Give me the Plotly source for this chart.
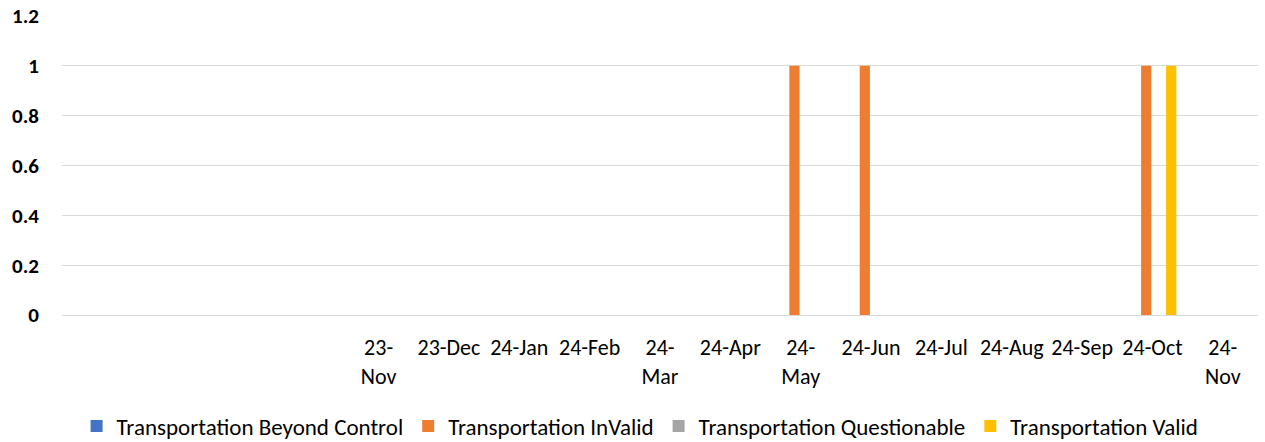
import plotly.graph_objects as go

# Month slots on the category axis (the first four slots carry no label)
categories = ["", "", "", "", "23-Nov", "23-Dec", "24-Jan", "24-Feb", "24-Mar",
              "24-Apr", "24-May", "24-Jun", "24-Jul", "24-Aug", "24-Sep",
              "24-Oct", "24-Nov"]
tick_labels = ["", "", "", "", "23-<br>Nov", "23-Dec", "24-Jan", "24-Feb",
               "24-<br>Mar", "24-Apr", "24-<br>May", "24-Jun", "24-Jul",
               "24-Aug", "24-Sep", "24-Oct", "24-<br>Nov"]

beyond_control = [0, 0, 0, 0, 0, 0, 0, 0, 0, 0, 0, 0, 0, 0, 0, 0, 0]
invalid        = [0, 0, 0, 0, 0, 0, 0, 0, 0, 0, 1, 1, 0, 0, 0, 1, 0]
questionable   = [0, 0, 0, 0, 0, 0, 0, 0, 0, 0, 0, 0, 0, 0, 0, 0, 0]
valid          = [0, 0, 0, 0, 0, 0, 0, 0, 0, 0, 0, 0, 0, 0, 0, 1, 0]

y_ticks = [0, 0.2, 0.4, 0.6, 0.8, 1, 1.2]
y_tick_text = ["0", "0.2", "0.4", "0.6", "0.8", "1", "1.2"]

series = [
    ("Transportation Beyond Control", beyond_control, "#4472C4"),
    ("Transportation InValid", invalid, "#ED7D31"),
    ("Transportation Questionable", questionable, "#A5A5A5"),
    ("Transportation Valid", valid, "#FFC000"),
]

positions = list(range(len(categories)))
FONT = "Carlito, Calibri, Lato, sans-serif"

fig = go.Figure()
for name, values, color in series:
    fig.add_trace(go.Bar(
        x=positions, y=values, name=name,
        marker=dict(color=color, line=dict(width=0)),
    ))

fig.update_layout(
    width=1265, height=442,
    margin=dict(l=62, r=7, t=16, b=127, autoexpand=False),
    paper_bgcolor="white", plot_bgcolor="white",
    barmode="group", bargap=0.29, bargroupgap=0.18,
    font=dict(family=FONT, color="#000000"),
    showlegend=True,
    legend=dict(
        orientation="h", xref="container", yref="container",
        x=0.506, xanchor="center", y=0.036, yanchor="middle",
        font=dict(family=FONT, size=23, color="#000000"),
        itemclick=False, traceorder="normal",
    ),
    xaxis=dict(
        range=[-0.5, len(categories) - 0.5], automargin=False,
        tickmode="array", tickvals=positions, ticktext=tick_labels,
        tickangle=0, ticks="", showgrid=False, zeroline=False,
        showline=False, ticklabelstandoff=17,
        tickfont=dict(family=FONT, size=22, color="#000000"),
    ),
    yaxis=dict(
        range=[0, 1.2], automargin=False,
        tickmode="array", tickvals=y_ticks, ticktext=y_tick_text,
        showgrid=True, gridcolor="#D9D9D9", gridwidth=1,
        zeroline=True, zerolinecolor="#D9D9D9", zerolinewidth=1,
        showline=False, ticks="", ticklabelstandoff=22,
        tickfont=dict(family=FONT, size=21, color="#000000", weight="bold"),
    ),
)

fig.write_html("out.html")
